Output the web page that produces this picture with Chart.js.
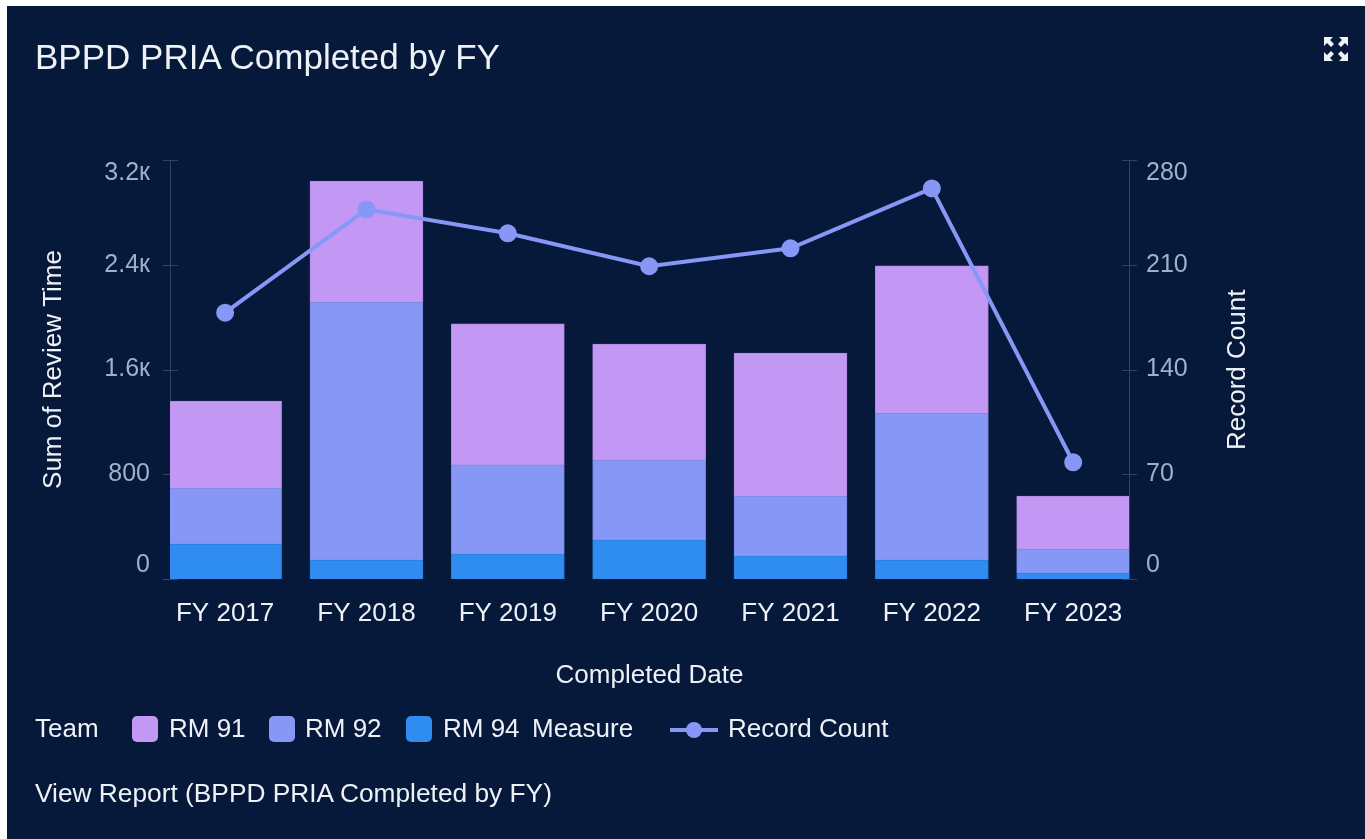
<!DOCTYPE html>
<html>
<head>
<meta charset="utf-8">
<title>BPPD PRIA Completed by FY</title>
<script src="https://cdn.jsdelivr.net/npm/chart.js@4/dist/chart.umd.min.js"></script>
<style>
    html, body { margin: 0; padding: 0; background: #fff; width: 1365px; height: 839px; overflow: hidden; }
    body { font-family: "Liberation Sans", Arial, sans-serif; }
    #card { position: absolute; left: 7px; top: 6px; right: 0; bottom: 0; background: #07193b; }
    .txt { position: absolute; color: #eef2f7; white-space: nowrap; line-height: 1; }
    .swatch { position: absolute; width: 26px; height: 26px; border-radius: 5px; }
</style>
</head>
<body>
<div id="card"></div>
<canvas id="reviewChart" width="1365" height="839" style="position:absolute;left:0;top:0;"></canvas>
<div class="txt" style="left:35px;top:39px;font-size:35px;">BPPD PRIA Completed by FY</div>
<svg style="position:absolute;left:1323px;top:36px;" width="26" height="26" viewBox="0 0 26 26" fill="#eef2f7">
    <path d="M1 1h9l-3 3 4 4-3 3-4-4-3 3zM25 1v9l-3-3-4 4-3-3 4-4-3-3zM1 25v-9l3 3 4-4 3 3-4 4 3 3zM25 25h-9l3-3-4-4 3-3 4 4 3-3z"/>
</svg>
<div class="txt" style="left:1223px;top:370px;font-size:26px;transform:rotate(-90deg);transform-origin:0 0;" id="rightTitle">Record Count</div>
<div id="legend"></div>
<div class="txt" style="left:35px;top:780px;font-size:26.3px;">View Report (BPPD PRIA Completed by FY)</div>

<script>
const categories = ['FY 2017', 'FY 2018', 'FY 2019', 'FY 2020', 'FY 2021', 'FY 2022', 'FY 2023'];
const rm94 = [267, 145, 191, 298, 176, 145, 46];
const rm92 = [428, 1970, 680, 611, 458, 1123, 183];
const rm91 = [664, 924, 1077, 886, 1092, 1123, 405];
const recordCount = [178, 247, 231, 209, 221, 261, 78];
const leftTicks = [0, 800, 1600, 2400, 3200];
const leftTickLabels = ['0', '800', '1.6к', '2.4к', '3.2к'];
const rightTicks = [0, 70, 140, 210, 280];

const PURPLE = '#c398f4';
const PERIWINKLE = '#8797f5';
const BLUE = '#2f8cf0';
const TICK_COLOR = '#9fb0ca';
const TEXT_COLOR = '#eef2f7';
const AXIS_COLOR = '#33425f';

// Turn a series into points for the linear x scale
function toPoints(values) {
    return values.map((v, i) => ({ x: i, y: v }));
}

// The first and last y labels sit inside the axis, an empty line pushes them over
function shiftLabel(text, index, count) {
    if (index === 0) return [text, ''];
    if (index === count - 1) return ['', text];
    return text;
}

// Small tick marks that cross the axis line on both sides
const crossTicks = {
    id: 'crossTicks',
    beforeDatasetsDraw(chart) {
        const ctx = chart.ctx;
        ctx.save();
        ctx.strokeStyle = AXIS_COLOR;
        ctx.lineWidth = 1;
        ['y', 'y1'].forEach(id => {
            const scale = chart.scales[id];
            const x = id === 'y' ? chart.chartArea.left : chart.chartArea.right;
            scale.ticks.forEach(t => {
                const py = Math.round(scale.getPixelForValue(t.value)) + 0.5;
                ctx.beginPath();
                ctx.moveTo(x - 7, py);
                ctx.lineTo(x + 8, py);
                ctx.stroke();
            });
        });
        ctx.restore();
    }
};

const barDefaults = { stack: 'team', yAxisID: 'y', xAxisID: 'x', barThickness: 113, borderWidth: 1, order: 2 };

new Chart(document.getElementById('reviewChart'), {
    type: 'bar',
    data: {
        datasets: [
            { type: 'line', label: 'Record Count', data: toPoints(recordCount), yAxisID: 'y1', xAxisID: 'x',
              borderColor: PERIWINKLE, backgroundColor: PERIWINKLE, borderWidth: 4, pointRadius: 7,
              tension: 0, order: 1 },
            { ...barDefaults, label: 'RM 94', data: toPoints(rm94), backgroundColor: BLUE, borderColor: '#2a7fdc' },
            { ...barDefaults, label: 'RM 92', data: toPoints(rm92), backgroundColor: PERIWINKLE, borderColor: '#7a88de' },
            { ...barDefaults, label: 'RM 91', data: toPoints(rm91), backgroundColor: PURPLE, borderColor: '#b088de' }
        ]
    },
    plugins: [crossTicks],
    options: {
        responsive: false,
        animation: false,
        layout: { padding: { top: 160 } },
        plugins: { legend: { display: false }, tooltip: { enabled: false } },
        scales: {
            x: {
                type: 'linear',
                stacked: true,
                offset: false,
                min: -0.39,
                max: 6.395,
                afterBuildTicks: s => { s.ticks = categories.map((c, i) => ({ value: i })); },
                afterFit: s => { s.height = 260; },
                grid: { display: false },
                border: { display: false },
                ticks: {
                    color: TEXT_COLOR, font: { size: 26, family: 'Liberation Sans' }, padding: 11,
                    maxRotation: 0, autoSkip: false,
                    callback: v => categories[v]
                },
                title: {
                    display: true, text: 'Completed Date', color: TEXT_COLOR,
                    font: { size: 26, family: 'Liberation Sans' }, padding: { top: 0, bottom: 148 }
                }
            },
            y: {
                stacked: true,
                position: 'left',
                min: leftTicks[0],
                max: leftTicks[leftTicks.length - 1],
                afterBuildTicks: s => { s.ticks = leftTicks.map(v => ({ value: v })); },
                afterFit: s => { s.width = 170; },
                grid: { display: false },
                border: { display: true, color: AXIS_COLOR },
                ticks: {
                    color: TICK_COLOR, font: { size: 25, family: 'Liberation Sans', lineHeight: 1.08 }, padding: 12,
                    callback: (v, i) => shiftLabel(leftTickLabels[i], i, leftTicks.length)
                },
                title: {
                    display: true, text: 'Sum of Review Time', color: TEXT_COLOR,
                    font: { size: 26, family: 'Liberation Sans' }, padding: { top: 38, bottom: 0 }
                }
            },
            y1: {
                position: 'right',
                min: rightTicks[0],
                max: rightTicks[rightTicks.length - 1],
                afterBuildTicks: s => { s.ticks = rightTicks.map(v => ({ value: v })); },
                afterFit: s => { s.width = 236; },
                grid: { display: false },
                border: { display: true, color: AXIS_COLOR },
                ticks: {
                    color: TICK_COLOR, font: { size: 25, family: 'Liberation Sans', lineHeight: 1.08 }, padding: 9,
                    callback: (v, i) => shiftLabel(String(v), i, rightTicks.length)
                }
            }
        }
    }
});

// Legend row, built by hand because the team and measure headings sit inside it
const legend = document.getElementById('legend');
function addText(text, left) {
    const el = document.createElement('div');
    el.className = 'txt';
    el.style.left = left + 'px';
    el.style.top = '715px';
    el.style.fontSize = '26px';
    el.textContent = text;
    legend.appendChild(el);
}
function addSwatch(color, left) {
    const el = document.createElement('div');
    el.className = 'swatch';
    el.style.left = left + 'px';
    el.style.top = '716px';
    el.style.background = color;
    legend.appendChild(el);
}
addText('Team', 35);
addSwatch(PURPLE, 132);
addText('RM 91', 169);
addSwatch(PERIWINKLE, 269);
addText('RM 92', 305);
addSwatch(BLUE, 406);
addText('RM 94', 443);
addText('Measure', 532);
legend.insertAdjacentHTML('beforeend',
    '<svg style="position:absolute;left:670px;top:718px;" width="48" height="24">' +
    '<line x1="0" y1="12" x2="48" y2="12" stroke="' + PERIWINKLE + '" stroke-width="4"/>' +
    '<circle cx="24" cy="12" r="8" fill="' + PERIWINKLE + '"/></svg>');
addText('Record Count', 728);

// Right axis title reads bottom to top, centred on the plot
const rt = document.getElementById('rightTitle');
rt.style.top = (370 + rt.offsetWidth / 2) + 'px';
</script>
</body>
</html>
